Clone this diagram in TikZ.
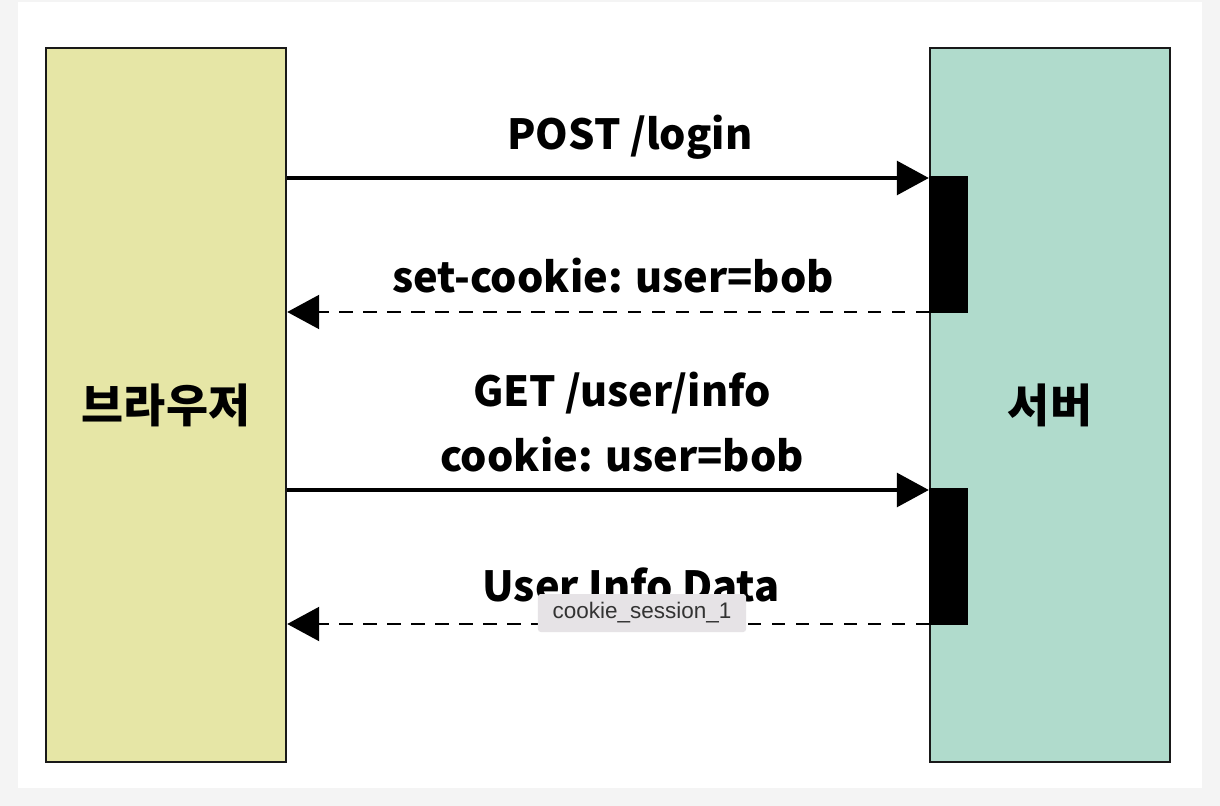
\documentclass[tikz,border=0pt]{standalone}
\usepackage{fontspec}
\usepackage{tikz}
\usetikzlibrary{arrows.meta}
\setmainfont{Noto Sans CJK KR}
\newfontfamily\tipfont{Liberation Sans}
\definecolor{pagegray}{HTML}{F4F4F4}
\definecolor{browseryellow}{HTML}{E6E6A6}
\definecolor{servergreen}{HTML}{B0DBCC}
\definecolor{tipgray}{HTML}{E6E3E6}

\begin{document}
\begin{tikzpicture}[x=0.025cm, y=-0.025cm,
    party/.style={draw=black!90, line width=1.7pt, minimum width=6cm, minimum height=17.85cm, inner sep=0pt, font=\fontsize{32.5}{36}\selectfont\bfseries},
    activebar/.style={fill=black, minimum width=0.975cm, inner sep=0pt},
    request/.style={line width=2.2pt, -{Triangle[length=0.8cm, width=0.85cm]}},
    reply/.style={line width=1.7pt, dash pattern=on 0.33cm off 0.27cm, -{Triangle[length=0.8cm, width=0.85cm]}},
    msglabel/.style={font=\fontsize{29.5}{46}\selectfont\bfseries, inner sep=0pt}]
    % page background
    \fill[pagegray] (0,0) rectangle (1220,806);
    \fill[white] (18,2) rectangle (1202,788);
    \useasboundingbox (0,0) rectangle (1220,806);

    % Browser and server
    \node[party, fill=browseryellow] (browser) at (166,405) {브라우저};
    \node[party, fill=servergreen] (server) at (1050,405) {서버};

    % activation bars
    \node[activebar, anchor=north west, minimum height=3.425cm] (bar1) at (server.west |- 0,176) {};
    \node[activebar, anchor=north west, minimum height=3.425cm] (bar2) at (server.west |- 0,488) {};

    % messages
    \draw[request] (browser.east |- 0,178) -- (bar1.west |- 0,178);
    \node[msglabel] (login) at (630,137) {POST /login};
    \draw[reply] (bar1.west |- 0,312) -- (browser.east |- 0,312);
    \node[msglabel] (setcookie) at (613,276) {set-cookie: user=bob};

    \draw[request] (browser.east |- 0,490) -- (bar2.west |- 0,490);
    \node[msglabel, align=center] (getinfo) at (622,422) {GET /user/info\\cookie: user=bob};
    \draw[reply] (bar2.west |- 0,624) -- (browser.east |- 0,624);
    \node[msglabel] (infodata) at (631,585) {User Info Data};

    % tooltip
    \node[fill=tipgray, rounded corners=2pt, minimum width=5.2cm, minimum height=0.95cm, inner sep=0pt,
        font=\tipfont\fontsize{16}{18}\selectfont, text=black!80] (tip) at (642,613) {cookie\_session\_1};
\end{tikzpicture}
\end{document}
